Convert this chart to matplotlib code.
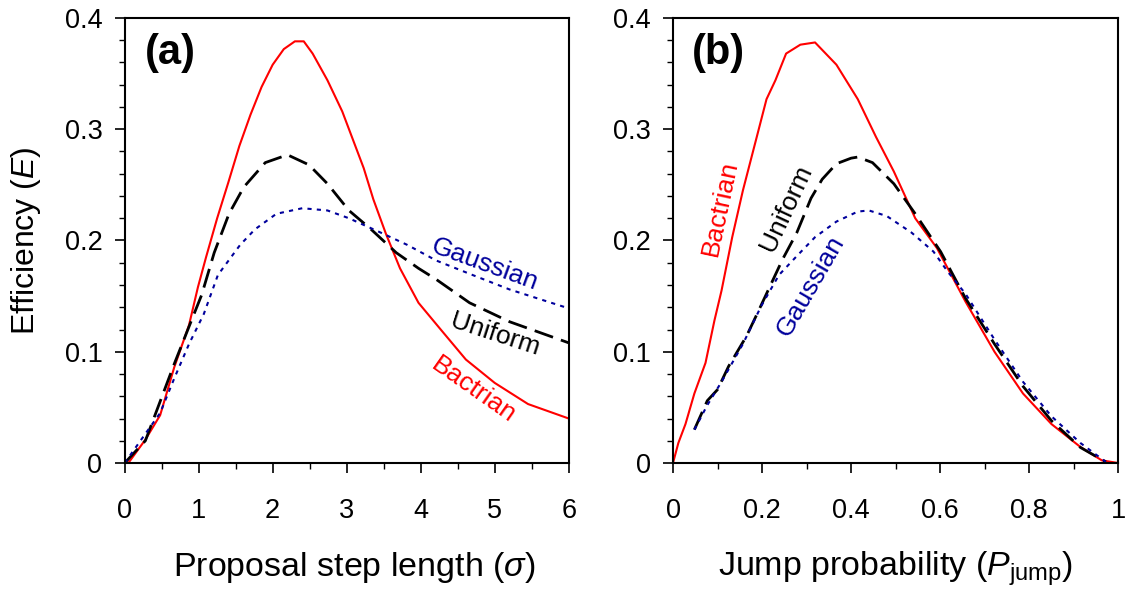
import numpy as np
import matplotlib
matplotlib.use("Agg")
import matplotlib.pyplot as plt
from matplotlib.ticker import MultipleLocator

plt.rcParams['font.family'] = ['Liberation Sans', 'DejaVu Sans']
plt.rcParams['mathtext.fontset'] = 'custom'
plt.rcParams['mathtext.rm'] = 'Liberation Sans'
plt.rcParams['mathtext.it'] = 'Liberation Sans:italic'

# panel (a): efficiency vs proposal step length
sig_bac = [0, 0.05, 0.28, 0.48, 0.67, 0.87, 0.99, 1.1, 1.25, 1.4, 1.55, 1.7, 1.85, 2.0, 2.15,
           2.3, 2.42, 2.54, 2.74, 2.94, 3.23, 3.36, 3.53, 3.72, 3.97, 4.27, 4.61, 5.0, 5.45, 6.0]
eff_bac = [0, 0.0, 0.021, 0.043, 0.086, 0.124, 0.158, 0.185, 0.220, 0.252, 0.285, 0.313, 0.338, 0.358, 0.372,
           0.379, 0.379, 0.368, 0.344, 0.316, 0.265, 0.237, 0.206, 0.175, 0.144, 0.120, 0.093, 0.072, 0.053, 0.040]
sig_uni = [0, 0.28, 0.67, 0.92, 1.04, 1.21, 1.41, 1.61, 1.9, 2.2, 2.49, 2.74, 3.03, 3.33, 3.67,
           3.97, 4.21, 4.66, 5.2, 6.0]
eff_uni = [0, 0.02, 0.089, 0.131, 0.151, 0.189, 0.224, 0.248, 0.270, 0.277, 0.268, 0.251, 0.227, 0.21, 0.189,
           0.175, 0.165, 0.144, 0.127, 0.108]
sig_gau = [0, 0.48, 0.67, 0.87, 1.07, 1.26, 1.56, 1.76, 2.05, 2.4, 2.74, 3.03, 3.43, 3.82, 4.21,
           4.7, 5.2, 6.0]
eff_gau = [0, 0.045, 0.076, 0.107, 0.134, 0.169, 0.196, 0.21, 0.224, 0.229, 0.227, 0.220, 0.208, 0.196, 0.182,
           0.169, 0.156, 0.139]

# panel (b): efficiency vs jump probability
pj_bac = [0, 0.012, 0.028, 0.048, 0.073, 0.093, 0.109, 0.133, 0.157, 0.19, 0.21, 0.23, 0.254, 0.286, 0.319,
          0.367, 0.415, 0.456, 0.496, 0.544, 0.593, 0.657, 0.722, 0.786, 0.85, 0.915, 0.963, 1.0]
effb_bac = [0, 0.018, 0.035, 0.0625, 0.09, 0.128, 0.155, 0.203, 0.245, 0.296, 0.327, 0.344, 0.368, 0.376, 0.378,
            0.358, 0.327, 0.293, 0.262, 0.220, 0.193, 0.145, 0.100, 0.0625, 0.035, 0.0144, 0.0024, 0]
pj_uni = [0.048, 0.077, 0.1, 0.125, 0.165, 0.19, 0.218, 0.246, 0.278, 0.31, 0.335, 0.367, 0.4, 0.415, 0.448,
          0.496, 0.544, 0.601, 0.657, 0.722, 0.786, 0.85, 0.915, 0.972]
effb_uni = [0.030, 0.056, 0.066, 0.087, 0.114, 0.135, 0.159, 0.183, 0.207, 0.238, 0.255, 0.269, 0.274, 0.275, 0.270,
            0.251, 0.224, 0.19, 0.148, 0.107, 0.069, 0.038, 0.014, 0.001]
pj_gau = [0.048, 0.077, 0.109, 0.157, 0.198, 0.238, 0.278, 0.319, 0.367, 0.415, 0.44, 0.48, 0.536, 0.585, 0.617,
          0.657, 0.722, 0.786, 0.85, 0.915, 0.972]
effb_gau = [0.030, 0.052, 0.073, 0.107, 0.141, 0.169, 0.186, 0.203, 0.217, 0.226, 0.227, 0.222, 0.207, 0.19, 0.172,
            0.152, 0.111, 0.073, 0.042, 0.018, 0.001]

RED = '#ff0000'
BLUE = '#00009c'

fig = plt.figure(figsize=(11.33, 5.99), dpi=100)
ax1 = fig.add_axes([0.110, 0.227, 0.392, 0.743])
ax2 = fig.add_axes([0.594, 0.227, 0.393, 0.743])


def style(ax):
    ax.set_ylim(0, 0.4)
    ax.yaxis.set_major_locator(MultipleLocator(0.1))
    ax.yaxis.set_minor_locator(MultipleLocator(0.02))
    ax.yaxis.set_major_formatter(plt.FuncFormatter(lambda v, p: '0' if abs(v) < 1e-9 else f'{v:g}'))
    for s in ax.spines.values():
        s.set_linewidth(1.5)
    ax.tick_params(axis='both', which='major', direction='out', length=7, width=1.2, labelsize=19.5)
    ax.tick_params(axis='both', which='minor', direction='out', length=4, width=1.0)
    ax.tick_params(axis='x', which='major', pad=18)
    ax.tick_params(axis='y', which='major', pad=9)


def plot_curves(ax, xb, yb, xu, yu, xg, yg):
    ax.plot(xb, yb, color=RED, lw=1.5)
    ax.plot(xu, yu, color='black', lw=2, dashes=(7, 3))
    ax.plot(xg, yg, color=BLUE, lw=1.5, dashes=(2, 2.5))


plot_curves(ax1, sig_bac, eff_bac, sig_uni, eff_uni, sig_gau, eff_gau)
style(ax1)
ax1.set_xlim(0, 6)
ax1.xaxis.set_major_locator(MultipleLocator(1))
ax1.xaxis.set_minor_locator(MultipleLocator(0.5))
ax1.set_xlabel(r'Proposal step length ($\sigma$)', fontsize=24.5)
ax1.xaxis.set_label_coords(0.518, -0.195)
ax1.set_ylabel(r'Efficiency ($E$)', fontsize=23)
ax1.yaxis.set_label_coords(-0.184, 0.5)
ax1.text(0.102, 0.922, '(a)', transform=ax1.transAxes, fontsize=30, fontweight='bold', ha='center', va='center')
ax1.text(4.87, 0.178, 'Gaussian', color=BLUE, fontsize=19, rotation=-20, ha='center', va='center')
ax1.text(5.0, 0.115, 'Uniform', color='black', fontsize=19, rotation=-18, ha='center', va='center')
ax1.text(4.71, 0.066, 'Bactrian', color=RED, fontsize=19, rotation=-35, ha='center', va='center')

plot_curves(ax2, pj_bac, effb_bac, pj_uni, effb_uni, pj_gau, effb_gau)
style(ax2)
ax2.set_xlim(0, 1)
ax2.xaxis.set_major_locator(MultipleLocator(0.2))
ax2.xaxis.set_minor_locator(MultipleLocator(0.1))
ax2.xaxis.set_major_formatter(plt.FuncFormatter(lambda v, p: f'{v:g}'))
ax2.set_xlabel(r'Jump probability ($P_{\mathrm{jump}}$)', fontsize=24.5)
ax2.xaxis.set_label_coords(0.5, -0.195)
ax2.text(0.102, 0.922, '(b)', transform=ax2.transAxes, fontsize=30, fontweight='bold', ha='center', va='center')
ax2.text(0.105, 0.229, 'Bactrian', color=RED, fontsize=19, rotation=78, ha='center', va='center')
ax2.text(0.254, 0.229, 'Uniform', color='black', fontsize=19, rotation=65, ha='center', va='center')
ax2.text(0.309, 0.159, 'Gaussian', color=BLUE, fontsize=19, rotation=60, ha='center', va='center')

fig.savefig('out.png', dpi=100)
